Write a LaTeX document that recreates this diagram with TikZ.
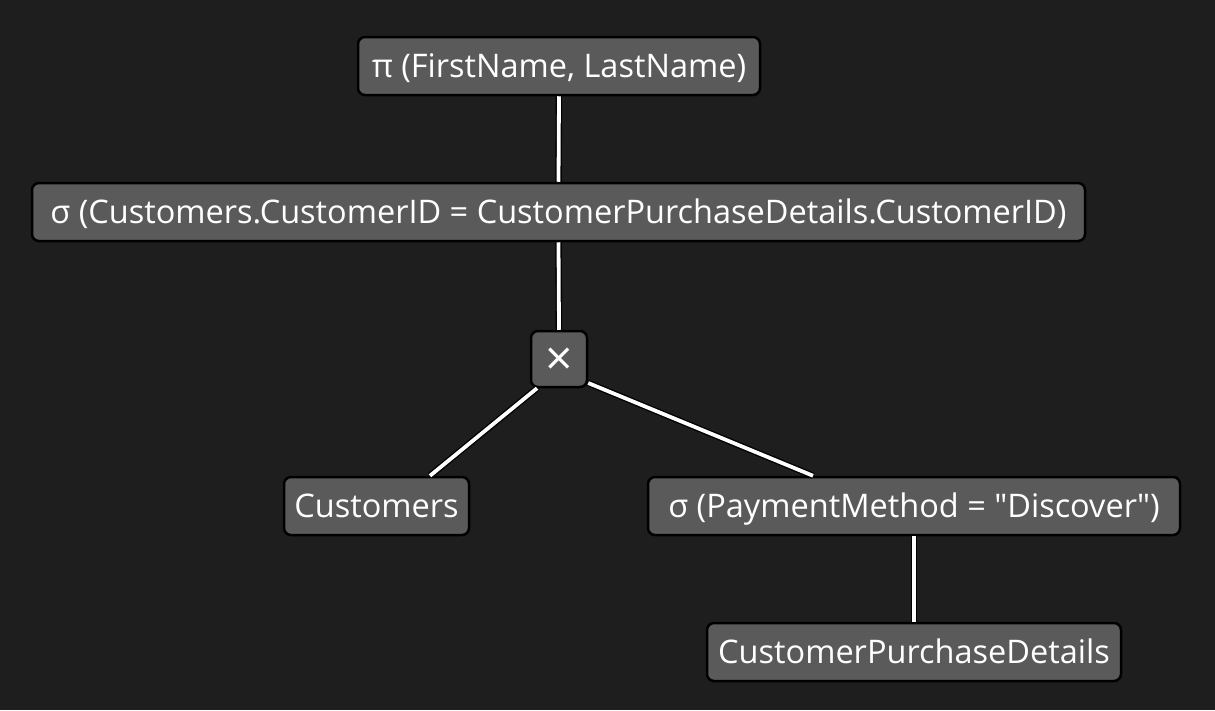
\documentclass[tikz,border=0pt]{standalone}
\usetikzlibrary{calc}
\usepackage{fontspec}
\setmainfont{Open Sans}
\definecolor{bg}{HTML}{1E1E1E}
\definecolor{boxfill}{HTML}{5A5A5A}
\begin{document}
\begin{tikzpicture}[x=1pt,y=-1pt,
  opbox/.style={draw=black, line width=2.5pt, fill=boxfill, rounded corners=7pt,
    text=white, font=\fontsize{32.5}{34}\selectfont, inner sep=0pt, minimum height=58pt,
    text height=23pt, text depth=0pt},
  link/.style={draw=white, line width=3.8pt, preaction={draw=black, line width=6.5pt}}]
\fill[bg] (0,0) rectangle (1215,710);
\useasboundingbox (0,0) rectangle (1215,710);
\node[opbox, minimum width=402pt] (pi) at (559,66) {π (FirstName, LastName)};
\node[opbox, minimum width=1053pt] (sel) at (558.5,212) {σ (Customers.CustomerID = CustomerPurchaseDetails.CustomerID)};
\node[opbox, minimum width=56pt, minimum height=56pt, font=\fontsize{48}{48}\selectfont, text height=32pt] (x) at (559,359) {×};
\node[opbox, minimum width=185pt] (cust) at (376.5,506) {Customers};
\node[opbox, minimum width=532pt] (pay) at (914,506) {σ (PaymentMethod = \textquotedbl Discover\textquotedbl)};
\node[opbox, minimum width=414pt] (cpd) at (914,652) {CustomerPurchaseDetails};
\draw[link] (pi.south) -- (sel.north);
\draw[link] (sel.south) -- (x.north);
\draw[link] ($(x.south)+(-22,0)$) -- ($(cust.north)+(53.5,0)$);
\draw[link] ($(x.east)+(0,24)$) -- ($(pay.north)+(-101,0)$);
\draw[link] (pay.south) -- (cpd.north);
\end{tikzpicture}
\end{document}
